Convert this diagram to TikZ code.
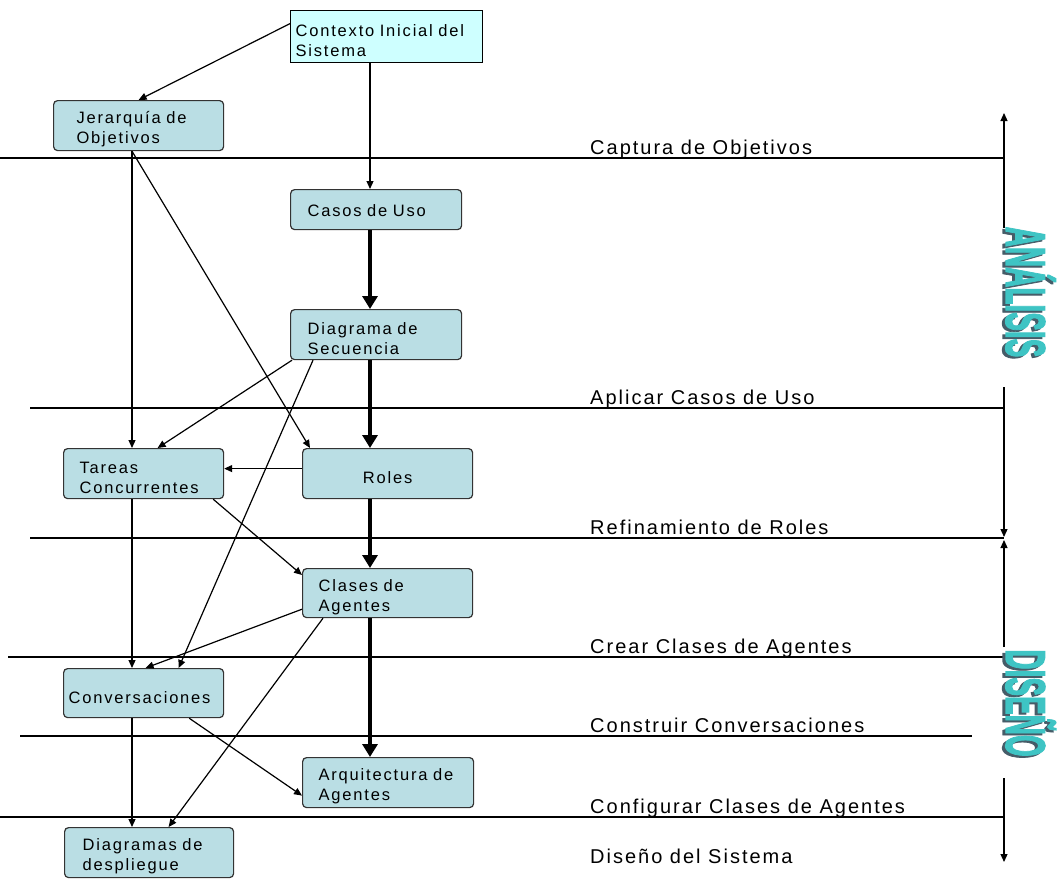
\documentclass[tikz,border=0pt]{standalone}
\usepackage{fontspec}
\usepackage{graphicx}
\usetikzlibrary{arrows.meta}
\setmainfont{Liberation Sans}
\newfontfamily\cajafont[LetterSpace=11]{Liberation Sans}
\newfontfamily\fasefont[LetterSpace=10]{Liberation Sans}
\newfontfamily\grandefont[FakeBold=2.5]{Liberation Sans}
\definecolor{cajafill}{RGB}{186,222,228}
\definecolor{ctxfill}{RGB}{206,255,255}
\definecolor{tealtxt}{RGB}{62,196,196}
\definecolor{sombra}{RGB}{70,92,104}
\begin{document}
\begin{tikzpicture}[x = 1pt, y = -1pt,
etapa/.style = {draw = black!80, line width = 1.2pt, fill = cajafill, rounded corners = 4pt,
  anchor = north west, align = left, inner ysep = 2pt, minimum height = 50pt, text height = 20pt,
  font = \cajafont\fontsize{16.5}{20}\selectfont},
flecha/.style = {-{Triangle[width = 7pt, length = 8pt]}, line width = 1.2pt},
gruesa/.style = {-{Triangle[width = 15pt, length = 13pt]}, line width = 4pt},
fase/.style = {line width = 1.5pt},
faselabel/.style = {anchor = base west, inner sep = 0pt, font = \fasefont\fontsize{20}{24}\selectfont},
vertical/.style = {rotate = -90, anchor = base, inner sep = 0pt, font = \grandefont\bfseries\fontsize{28}{28}\selectfont}]
\fill [white] (0,0) rectangle (1059,878);
\useasboundingbox (0,0) rectangle (1059,878);

% columnas de las flechas verticales
\coordinate (eje) at (370,0);
\coordinate (izq) at (132,0);

% lineas de fase
\foreach \y/\xa/\xb/\etiqueta in {158/0/1004/Captura de Objetivos, 408/30/1004/Aplicar Casos de Uso,
  538/30/1004/Refinamiento de Roles, 657/8/1004/Crear Clases de Agentes,
  736/20/972/Construir Conversaciones, 817/0/1004/Configurar Clases de Agentes}{
\draw [fase] (\xa,\y) -- (\xb,\y);
\node [faselabel] (lbl\y) at (590,\y-4) {\etiqueta};
}
\node [faselabel] (lblsis) at (590,863) {Diseño del Sistema};

% cajas
\node [etapa, sharp corners, fill = ctxfill, draw = black, minimum height = 52pt, text width = 182pt, inner xsep = 5pt] (ctx) at (290,10) {Contexto Inicial del\\Sistema};
\node [etapa, text width = 124pt, inner xsep = 23pt] (jer) at (53,100) {Jerarquía de\\Objetivos};
\node [etapa, minimum height = 40pt, text height = 13pt, text width = 137pt, inner xsep = 17pt] (casos) at (290,189) {Casos de Uso};
\node [etapa, text width = 137pt, inner xsep = 17pt] (diag) at (290,309) {Diagrama de\\Secuencia};
\node [etapa, text width = 138pt, inner xsep = 16pt, align = center] (roles) at (302,448) {Roles};
\node [etapa, text width = 128pt, inner xsep = 16pt] (tareas) at (63,448) {Tareas\\Concurrentes};
\node [etapa, minimum height = 49pt, text width = 138pt, inner xsep = 16pt] (clases) at (302,568) {Clases de\\Agentes};
\node [etapa, minimum height = 49pt, text width = 150pt, inner xsep = 5pt] (conv) at (63,668) {Conversaciones};
\node [etapa, text width = 139pt, inner xsep = 16pt] (arq) at (302,757) {Arquitectura de\\Agentes};
\node [etapa, text width = 133pt, inner xsep = 18pt] (desp) at (64,827) {Diagramas de\\despliegue};

% flechas gruesas
\draw [gruesa] (casos.south -| eje) -- (diag.north -| eje);
\draw [gruesa] (diag.south -| eje) -- (roles.north -| eje);
\draw [gruesa] (roles.south -| eje) -- (clases.north -| eje);
\draw [gruesa] (clases.south -| eje) -- (arq.north -| eje);

% flechas finas
\draw [flecha] ([yshift = 13pt]ctx.west) -- (jer.north);
\draw [flecha] (ctx.south -| eje) -- (casos.north -| eje);
\draw [flecha] (jer.south -| izq) -- (tareas.north -| izq);
\draw [flecha] (jer.south -| izq) -- ([xshift = 8pt]roles.north west);
\draw [flecha] ([xshift = 2pt]diag.south west) -- ([xshift = 14pt]tareas.north);
\draw [flecha] ([xshift = 23pt]diag.south west) -- ([xshift = 35pt]conv.north);
\draw [flecha] ([yshift = 5pt]roles.west) -- ([yshift = 5pt]roles.west -| tareas.east);
\draw [flecha] ([xshift = -11pt]tareas.south east) -- ([yshift = -7pt]clases.north west);
\draw [flecha] (tareas.south -| izq) -- (conv.north -| izq);
\draw [flecha] ([yshift = 9pt]clases.south west) -- ([xshift = 2pt]conv.north);
\draw [flecha] ([xshift = 21pt]clases.south west) -- ([xshift = 19.5pt]desp.north);
\draw [flecha] ([xshift = -35pt]conv.south east) -- ([yshift = -13pt]arq.west);
\draw [flecha] (conv.south -| izq) -- (desp.north -| izq);

% fases a la derecha
\coordinate (aArr) at (1004,113);
\coordinate (aMed1) at (1004,228);
\coordinate (aMed2) at (1004,387);
\coordinate (aAb) at (1004,537);
\coordinate (dArr) at (1004,540);
\coordinate (dMed1) at (1004,647);
\coordinate (dMed2) at (1004,778);
\coordinate (dAb) at (1004,862);
\draw [flecha] (aMed1) -- (aArr);
\draw [flecha] (aMed2) -- (aAb);
\draw [flecha] (dMed1) -- (dArr);
\draw [flecha] (dMed2) -- (dAb);
\node [vertical, text = sombra] (analisisSombra) at (1003,294) {\scalebox{1}[2]{ANÁLISIS}};
\node [vertical, text = tealtxt] (analisis) at (1006,292) {\scalebox{1}[2]{ANÁLISIS}};
\node [vertical, text = sombra] (disenoSombra) at (1003,705) {\scalebox{1}[2]{DISEÑO}};
\node [vertical, text = tealtxt] (diseno) at (1006,703) {\scalebox{1}[2]{DISEÑO}};
\end{tikzpicture}
\end{document}
